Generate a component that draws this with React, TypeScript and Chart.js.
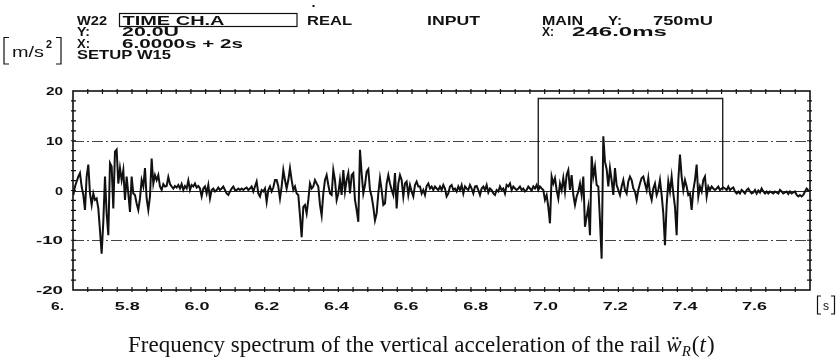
import { useEffect, useRef } from 'react';
import { Chart, registerables } from 'chart.js';
Chart.register(...registerables);

// ---- data ----
const SAMPLE_START = 5.6451; // s
const SAMPLE_STEP = 0.0047824; // s
const SIGNAL_VALUES = [
  -0.9, 0.8, 1.8, 2.8, 3.5, 0.8, -0.9, -3.9, 2.8, 5.2, -0.6, -2.9, -0.6, -1.9, -1.6, -3.6, -8.0, -12.7, -6.3, 2.8,
  -4.6, -9.0, 5.5, 4.8, -3.6, 7.8, 8.2, 1.4, 4.5, 2.1, 4.1, -1.9, 2.8, -0.6, -4.3, 2.8, -0.6, -0.9, -2.6, -3.9,
  -1.6, 2.1, 0.8, 4.5, -1.6, -3.9, -1.2, 6.4, 1.4, 3.1, 2.1, 3.1, 0.8, 0.1, 1.3, 0.8, 0.9, 2.7, 1.3, 0.8,
  0.4, 0.9, 0.6, 1.1, 0.4, 1.3, 0.1, 0.9, 0.4, 2.0, 0.1, 1.1, 0.8, 1.4, 0.6, 0.9, 0.4, -1.2, 0.4, 0.8,
  -0.6, 1.1, -1.6, 0.1, 0.4, -0.2, 0.1, 0.6, 0.1, 0.4, 0.8, 0.1, -0.6, -0.9, -0.2, 0.4, 0.8, 0.1, 0.1, 0.4,
  0.1, 0.4, 0.1, 0.4, 0.6, 0.1, 0.4, 0.8, -0.2, 0.8, 1.8, -0.6, -1.2, 0.1, -0.2, 0.4, -2.3, 0.1, 0.8, -0.2,
  0.6, 2.1, 2.1, 0.8, -1.6, 0.8, 4.1, 2.1, 0.4, 2.1, 4.5, 2.1, 0.1, 0.8, -0.6, -0.9, -5.0, -9.4, -3.3, -2.9,
  -4.6, -1.9, 1.4, 0.4, 0.8, 2.1, 1.4, 0.8, -2.9, -5.0, -0.6, 2.1, 3.1, 1.1, -0.6, -0.9, 4.1, 2.1, -1.9, -0.6,
  2.1, -0.9, 4.1, -0.2, 2.1, 3.5, -0.6, 3.1, 3.5, -1.9, -3.9, -6.3, 8.2, 3.5, -0.6, 1.1, 3.8, 4.3, 0.1, -1.2,
  -3.3, -6.0, -4.6, -0.6, 2.5, 0.1, -2.9, -2.6, 1.4, 3.1, 1.4, 0.1, -0.9, 3.5, -3.6, 1.4, 3.1, 2.1, -1.2, 1.4,
  1.8, -0.9, 1.1, -0.2, -1.2, 1.1, 1.8, 0.8,
  0.8, -0.6, 0.1, -0.9, 0.9, 1.4, 0.4, 0.8, 0.1, 0.8, 0.4, 0.1, 0.8, 0.1, 1.1, 0.4, -1.2, -0.6, 0.8, 1.1,
  0.1, 0.4, -0.2, 0.8, 0.1, 1.1, -0.6, 0.8, 0.4, 0.1, 1.1, 0.4, -0.6, 0.8, 0.9, 0.1, -0.9, 0.4, 0.8, 0.1,
  1.1, -0.4, 0.4, 0.1, -0.6, -0.9, 0.1, -0.2, 0.8, 0.1, 0.4, -0.6, 1.1, 0.8, 1.4, 0.1, 0.8, 0.4, 0.1, 0.4,
  0.8, 0.1, 0.4, -0.2, 0.1, 0.8, 0.4, 0.0, 0.8, 0.4, 1.1, 0.1, 0.8, 0.4, 0.1, -1.9, -0.9, -3.3, -6.6, 2.8,
  1.4, 2.5, 0.1, -1.6, 1.4, 0.1, 2.5, -0.2, 3.1, 4.1, 0.1, 3.1, -0.9, -2.9, -1.2, -0.2, 1.4, -0.9, 2.8, -7.3,
  -5.3, -3.3, -9.0, 6.9, 2.8, 4.8, 1.1, 0.8, -6.0, -13.7, 10.9, 5.8, 4.3, 0.8, 4.5, 2.1, -0.9, 4.5, 1.1, 0.1,
  -0.9, 0.8, 2.1, 0.1, -0.6, 1.8, 2.8, 2.1, 0.4, -0.2, -1.9, 0.1, 1.4, 2.5, 2.8, 1.4, 0.1, 2.5, -0.6, -1.9,
  0.4, 1.4, -0.9, 0.1, 2.1, -0.9, -4.6, -11.0, -2.9, 1.8, -0.2, 2.8, -0.6, -3.3, -9.0, 2.1, 7.2, 2.8, 0.1, 2.1,
  0.8, -0.9, -0.6, -3.9, 0.1, 2.1, 5.2, -1.2, 0.8, -0.2, 2.1, 2.8, -1.2, 0.8, 0.1, 0.8, 0.4, 0.1, 0.4, 0.8,
  0.1, 0.4, 0.6, 0.4, 0.1, 0.8, 0.1, 0.4, 0.6, -0.2, -0.6, -0.2, -0.6, 0.1, -0.2, -0.6, 0.1, 0.4, -0.2, -0.6,
  -0.4, 0.1, -0.6, 0.0, -0.4, 0.4, -0.2, -0.6, -0.2, -0.6, -0.2, -0.4, -0.6, -0.2, -0.4, -0.6, 0.1, -0.2, -0.6, -0.4,
  -0.2, -0.7, -0.2, -0.6, -0.4, -0.2, -0.9, -1.2, -0.9, -1.2, -0.9, -0.2, 0.4, 0.1,
];

const X_MIN = 5.6442;
const X_MAX = 7.759;
const Y_MIN = -20;
const Y_MAX = 20;
const FRAME_DIVISIONS_X = 50;
const FRAME_STEP_Y = 2;

const X_TICK_VALUES = [5.6, 5.8, 6.0, 6.2, 6.4, 6.6, 6.8, 7.0, 7.2, 7.4, 7.6];
const X_TICK_LABELS = ['6.', '5.8', '6.0', '6.2', '6.4', '6.6', '6.8', '7.0', '7.2', '7.4', '7.6'];
const Y_TICK_VALUES = [20, 10, 0, -10, -20];
const Y_TICK_LABELS = ['20', '10', '0', '-10', '-20'];
const Y_GRID_VALUES = [10, -10];

const BOX_TIMES = [6.9793, 6.9793, 7.5085, 7.5085];
const BOX_LEVELS = [0, 18.5, 18.5, 0];

const CAPTION = 'Frequency spectrum of the vertical acceleration of the rail ';

const INK = '#111';

function fitText(ctx: CanvasRenderingContext2D, text: string, x: number, y: number, width: number, font: string, align: 'left' | 'right' | 'center' = 'left') {
  ctx.save();
  ctx.font = font;
  const w = ctx.measureText(text).width || 1;
  const s = width / w;
  const left = align === 'right' ? x - width : align === 'center' ? x - width / 2 : x;
  ctx.translate(left, y);
  ctx.scale(s, 1);
  ctx.textAlign = 'left';
  ctx.textBaseline = 'alphabetic';
  ctx.fillStyle = INK;
  ctx.fillText(text, 0, 0);
  ctx.restore();
}

const HFONT = "bold 13px 'Liberation Sans'";

const decor = {
  id: 'decor',
  beforeDatasetsDraw(chart: any) {
    const { ctx, chartArea: a, scales } = chart;
    const y = scales.y;
    ctx.save();
    ctx.strokeStyle = '#444';
    ctx.lineWidth = 1;
    ctx.setLineDash([11, 3, 2, 3]);
    for (const v of Y_GRID_VALUES) {
      const py = Math.round(y.getPixelForValue(v)) + 0.5;
      ctx.beginPath();
      ctx.moveTo(a.left, py);
      ctx.lineTo(a.right, py);
      ctx.stroke();
    }
    ctx.setLineDash([]);
    ctx.strokeStyle = '#222';
    const pz = Math.round(y.getPixelForValue(0)) + 0.5;
    ctx.beginPath();
    ctx.moveTo(a.left, pz);
    ctx.lineTo(a.right, pz);
    ctx.stroke();
    ctx.restore();
  },
  afterDraw(chart: any) {
    const { ctx, chartArea: a, scales } = chart;
    const x = scales.x;
    const y = scales.y;
    ctx.save();
    // frame
    ctx.strokeStyle = INK;
    ctx.lineWidth = 1.6;
    ctx.strokeRect(a.left, a.top, a.right - a.left, a.bottom - a.top);
    // minor ticks
    ctx.lineWidth = 1.2;
    ctx.beginPath();
    const step = (X_MAX - X_MIN) / FRAME_DIVISIONS_X;
    for (let k = 1; k < FRAME_DIVISIONS_X; k++) {
      const px = x.getPixelForValue(X_MIN + k * step);
      ctx.moveTo(px, a.top - 2);
      ctx.lineTo(px, a.top + 3);
      ctx.moveTo(px, a.bottom - 3);
      ctx.lineTo(px, a.bottom + 2);
    }
    for (let v = Y_MIN + FRAME_STEP_Y; v < Y_MAX; v += FRAME_STEP_Y) {
      const py = y.getPixelForValue(v);
      ctx.moveTo(a.left - 2, py);
      ctx.lineTo(a.left + 3, py);
      ctx.moveTo(a.right - 3, py);
      ctx.lineTo(a.right + 2, py);
    }
    ctx.stroke();

    // y labels
    Y_TICK_VALUES.forEach((v, i) => {
      const lbl = Y_TICK_LABELS[i];
      const w = lbl.length === 1 ? 8 : lbl.length === 2 ? 17 : 27;
      fitText(ctx, lbl, 63, y.getPixelForValue(v) + 4, w, "bold 11px 'Liberation Sans'", 'right');
    });
    // x labels
    X_TICK_VALUES.forEach((v, i) => {
      const lbl = X_TICK_LABELS[i];
      const w = lbl.length === 2 ? 13 : 25;
      fitText(ctx, lbl, x.getPixelForValue(v), 310, w, "bold 11px 'Liberation Sans'", 'center');
    });
    // [s]
    ctx.strokeStyle = INK;
    ctx.lineWidth = 1.2;
    ctx.beginPath();
    ctx.moveTo(821, 296); ctx.lineTo(817.5, 296); ctx.lineTo(817.5, 314); ctx.lineTo(821, 314);
    ctx.moveTo(831, 296); ctx.lineTo(834.5, 296); ctx.lineTo(834.5, 314); ctx.lineTo(831, 314);
    ctx.stroke();
    fitText(ctx, 's', 826, 310, 6, "12px 'Liberation Sans'", 'center');

    // [m/s2]
    ctx.beginPath();
    ctx.moveTo(9, 37.5); ctx.lineTo(4, 37.5); ctx.lineTo(4, 64); ctx.lineTo(9, 64);
    ctx.moveTo(56, 37.5); ctx.lineTo(61, 37.5); ctx.lineTo(61, 64); ctx.lineTo(56, 64);
    ctx.stroke();
    fitText(ctx, 'm/s', 12, 57, 32, "15px 'Liberation Sans'");
    fitText(ctx, '2', 46, 48, 6, "bold 10px 'Liberation Sans'");

    // header
    const H: [string, number, number, number][] = [
      ['W22', 77, 25, 30],
      ['TIME CH.A', 122.5, 25, 102],
      ['REAL', 307, 25, 45],
      ['INPUT', 427, 24.5, 53],
      ['MAIN', 542, 24.5, 41],
      ['Y:', 608, 24.5, 14],
      ['750mU', 653, 24.5, 60],
      ['Y:', 77, 36, 13],
      ['20.0U', 122, 36, 57],
      ['X:', 542, 36, 12],
      ['246.0ms', 572, 36, 95],
      ['X:', 77, 48, 13],
      ['6.0000s + 2s', 122, 48, 121],
      ['SETUP W15', 77, 59, 94],
    ];
    H.forEach(([t, hx, hy, hw]) => fitText(ctx, t, hx, hy, hw, HFONT));
    ctx.lineWidth = 1.2;
    ctx.strokeRect(119.5, 13.5, 177.5, 13);
    ctx.fillStyle = INK;
    ctx.fillRect(312.5, 5, 2, 2);

    // caption
    ctx.fillStyle = INK;
    ctx.textAlign = 'left';
    ctx.textBaseline = 'alphabetic';
    let cx = 128;
    const cy = 352;
    ctx.font = "23px 'Liberation Serif'";
    ctx.fillText(CAPTION, cx, cy);
    cx += ctx.measureText(CAPTION).width;
    ctx.font = "italic 23px 'Liberation Serif'";
    ctx.fillText('\u1E85', cx, cy);
    cx += ctx.measureText('\u1E85').width;
    ctx.font = "italic 15px 'Liberation Serif'";
    ctx.fillText('R', cx, cy + 4);
    cx += ctx.measureText('R').width + 1;
    ctx.font = "23px 'Liberation Serif'";
    ctx.fillText('(', cx, cy);
    cx += ctx.measureText('(').width;
    ctx.font = "italic 23px 'Liberation Serif'";
    ctx.fillText('t', cx, cy);
    cx += ctx.measureText('t').width + 1;
    ctx.font = "23px 'Liberation Serif'";
    ctx.fillText(')', cx, cy);
    ctx.restore();
  },
};

export default function App() {
  const ref = useRef<HTMLCanvasElement>(null);
  useEffect(() => {
    const canvas = ref.current;
    if (!canvas) return;
    const signal = SIGNAL_VALUES.map((v, i) => ({ x: SAMPLE_START + i * SAMPLE_STEP, y: v }));
    const box = BOX_TIMES.map((t, i) => ({ x: t, y: BOX_LEVELS[i] }));
    const chart = new Chart(canvas, {
      type: 'line',
      data: {
        datasets: [
          { data: signal, borderColor: INK, borderWidth: 2, pointRadius: 0, tension: 0, fill: false },
          { data: box, borderColor: '#222', borderWidth: 1.4, pointRadius: 0, tension: 0, fill: false },
        ],
      },
      options: {
        responsive: false,
        animation: false,
        devicePixelRatio: 1,
        layout: { padding: { left: 73, right: 30, top: 91, bottom: 71 } },
        plugins: { legend: { display: false }, tooltip: { enabled: false } },
        scales: {
          x: { type: 'linear', min: X_MIN, max: X_MAX, display: false },
          y: { type: 'linear', min: Y_MIN, max: Y_MAX, display: false },
        },
      },
      plugins: [decor],
    } as any);
    return () => chart.destroy();
  }, []);
  return (
    <div style={{ position: 'absolute', left: 0, top: 0, width: 840, height: 361, background: '#fff' }}>
      <canvas ref={ref} width={840} height={361} style={{ display: 'block', width: '840px', height: '361px' }} />
    </div>
  );
}
